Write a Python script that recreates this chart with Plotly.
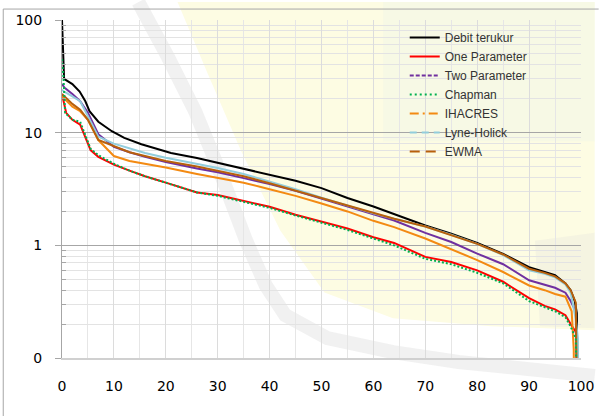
import plotly.graph_objects as go

# ---------------- data ----------------
black_x = [0, 0.0, 0.4, 2, 3.4, 4.5, 5.3, 7, 9.6, 12, 15.3, 18, 21, 26, 30, 35.5, 40, 45, 50, 55, 60, 64, 70, 75, 80, 85, 90, 93, 95, 97, 98, 98.8, 99.2, 99.4]
black_y = [150, 100, 30, 27, 23.2, 19, 15.5, 12.5, 10.3, 9.0, 7.9, 7.2, 6.6, 5.96, 5.4, 4.77, 4.23, 3.74, 3.22, 2.63, 2.21, 1.90, 1.50, 1.27, 1.05, 0.84, 0.64, 0.58, 0.545, 0.46, 0.40, 0.32, 0.25, 0.01]

red_x = [0, 0.3, 0.8, 2, 3.5, 5, 5.5, 7, 10, 13, 16, 20, 26, 30, 35, 40, 45, 50, 55, 60, 64, 70, 75, 80, 85, 90, 93, 95, 97, 98, 99, 99.3, 99.5]
red_y = [22, 19, 15, 13, 11.8, 8.0, 7.0, 6.1, 5.2, 4.6, 4.1, 3.6, 2.95, 2.8, 2.5, 2.2, 1.87, 1.62, 1.41, 1.18, 1.05, 0.79, 0.71, 0.60, 0.475, 0.34, 0.29, 0.27, 0.24, 0.20, 0.17, 0.10, 0.01]

purple_x = [0, 0.5, 2, 3.5, 5, 7, 10, 13, 16, 20, 26, 30, 35, 40, 45, 50, 55, 60, 64, 70, 75, 80, 85, 90, 93, 95, 97, 98, 99, 99.4]
purple_y = [27, 25, 22, 19, 15, 9.7, 7.5, 6.7, 6.1, 5.5, 4.8, 4.45, 3.95, 3.5, 3.05, 2.6, 2.2, 1.86, 1.66, 1.29, 1.07, 0.845, 0.68, 0.49, 0.45, 0.42, 0.38, 0.32, 0.26, 0.01]

green_x = [0, 0.3, 0.6, 2, 3.5, 5, 5.5, 7, 10, 13, 16, 20, 26, 30, 35, 40, 45, 50, 55, 60, 64, 70, 75, 80, 85, 90, 93, 95, 97, 98, 99, 99.4]
green_y = [45, 30, 15, 13, 12.5, 8.5, 7.2, 6.3, 5.3, 4.6, 4.1, 3.6, 2.95, 2.75, 2.45, 2.15, 1.84, 1.58, 1.37, 1.15, 1.0, 0.76, 0.68, 0.57, 0.46, 0.32, 0.28, 0.26, 0.23, 0.19, 0.15, 0.01]

orange_x = [0, 0.5, 2, 3.5, 5, 7, 10, 13, 16, 20, 26, 30, 35, 40, 45, 50, 55, 60, 64, 70, 75, 80, 85, 90, 93, 95, 97, 98.2, 98.6, 98.8]
orange_y = [21, 20, 17, 15.5, 13, 8.6, 6.2, 5.6, 5.3, 4.9, 4.3, 4.0, 3.6, 3.15, 2.75, 2.35, 2.0, 1.65, 1.45, 1.15, 0.93, 0.74, 0.58, 0.44, 0.40, 0.37, 0.35, 0.26, 0.12, 0.01]

lblue_x = [0, 0.5, 2, 3.5, 5, 7, 10, 13, 16, 20, 26, 30, 35, 40, 45, 50, 55, 60, 64, 70, 75, 80, 85, 90, 93, 95, 97, 98, 99, 99.4, 99.6]
lblue_y = [24, 23, 21, 19, 14, 9.2, 8.0, 7.3, 6.6, 6.0, 5.3, 4.85, 4.3, 3.7, 3.15, 2.65, 2.25, 1.92, 1.72, 1.47, 1.24, 1.03, 0.82, 0.60, 0.56, 0.52, 0.45, 0.38, 0.22, 0.15, 0.01]

brown_x = [0, 0.5, 2, 3.5, 5, 7, 10, 13, 16, 20, 26, 30, 35, 40, 45, 50, 55, 60, 64, 70, 75, 80, 85, 90, 93, 95, 97, 98, 99, 99.4]
brown_y = [22, 21, 18, 16, 13, 8.6, 7.6, 6.7, 6.2, 5.6, 5.0, 4.6, 4.1, 3.55, 3.05, 2.6, 2.25, 1.92, 1.72, 1.47, 1.24, 1.03, 0.83, 0.62, 0.57, 0.53, 0.46, 0.40, 0.31, 0.01]

names = ["Debit terukur", "One Parameter", "Two Parameter", "Chapman", "IHACRES", "Lyne-Holick", "EWMA"]
y_tickvals = [0.1, 1, 10, 100]
y_ticktext = ["0", "1", "10", "100"]
x_tickvals = [0, 10, 20, 30, 40, 50, 60, 70, 80, 90, 100]

# ---------------- styles ----------------
colors = ["#000000", "#ff0000", "#7030a0", "#00b050", "#f38a12", "#92cddc", "#b8600c"]
legend_dash = ["solid", "solid", "4px,2px", "2px,3px", "9px,4px,2px,4px", "7px,5px", "10px,6px"]
series = [(black_x, black_y), (red_x, red_y), (purple_x, purple_y), (green_x, green_y),
          (orange_x, orange_y), (lblue_x, lblue_y), (brown_x, brown_y)]
draw_order = [0, 1, 2, 4, 5, 6, 3]

W, H = 606, 416
L, R, T, B = 62, 14, 18, 58
PW, PH = W - L - R, H - T - B


def px(x, y):
    return ((x - L) / PW, (H - B - y) / PH)


def path(points, close=True):
    s = ""
    for i, (a, b) in enumerate(points):
        xp, yp = px(a, b)
        s += ("M" if i == 0 else "L") + f"{xp:.4f},{yp:.4f} "
    return s + ("Z" if close else "")


fig = go.Figure()

for i in draw_order:
    xs, ys = series[i]
    fig.add_trace(go.Scatter(
        x=xs, y=ys, mode="lines", name=names[i], showlegend=False,
        line=dict(color=colors[i], width=2, dash=("2px,2px" if i == 3 else "solid")),
        hoverinfo="skip"))

for i in range(len(names)):
    fig.add_trace(go.Scatter(
        x=[None], y=[None], mode="lines", name=names[i],
        line=dict(color=colors[i], width=2, dash=legend_dash[i])))

shapes = []
# watermark approximation (behind the plot)
shapes.append(dict(type="path", xref="paper", yref="paper", layer="below",
                   path=path([(180, 0), (606, 0), (606, 330), (500, 326), (400, 318), (330, 292),
                              (285, 230), (245, 150), (210, 70)]),
                   fillcolor="#fdfce3", line=dict(width=0)))
shapes.append(dict(type="path", xref="paper", yref="paper", layer="below",
                   path=path([(390, 0), (606, 0), (606, 140), (390, 140)]),
                   fillcolor="#f2f6e8", line=dict(width=0), opacity=0.5))
shapes.append(dict(type="path", xref="paper", yref="paper", layer="below",
                   path=path([(140, 0), (170, 55), (198, 110), (225, 175), (250, 240), (270, 285),
                              (290, 315), (333, 338), (400, 352), (467, 362), (606, 376)], close=False),
                   line=dict(color="rgba(220,220,220,0.4)", width=14)))
shapes.append(dict(type="path", xref="paper", yref="paper", layer="below",
                   path=path([(545, 240), (606, 232), (606, 328), (550, 326)]),
                   fillcolor="rgba(220,220,220,0.22)", line=dict(width=0)))
# chart border
shapes.append(dict(type="path", xref="paper", yref="paper", layer="below",
                   path=path([(2, 420), (2, 7), (610, 7)], close=False),
                   line=dict(color="#a6a6a6", width=1)))
fig.update_layout(shapes=shapes)

fig.update_layout(
    width=W, height=H,
    margin=dict(l=L, r=R, t=T, b=B, pad=0),
    paper_bgcolor="white", plot_bgcolor="rgba(0,0,0,0)",
    font=dict(family="DejaVu Sans", size=14, color="black"),
    legend=dict(x=px(412, 0)[0], y=px(0, 21)[1], xanchor="left", yanchor="top",
                bgcolor="rgba(0,0,0,0)", font=dict(family="Liberation Sans", size=12, color="#333333"),
                tracegroupgap=0, itemwidth=30),
    showlegend=True,
)
fig.update_xaxes(range=[0, 100], tickvals=x_tickvals, showgrid=True, gridcolor="#dcdcdc", gridwidth=1,
                 minor=dict(dtick=5, showgrid=True, gridcolor="#e6e6e6", gridwidth=1),
                 showline=True, linecolor="#d0d0d0", linewidth=2, ticks="", zeroline=False,
                 ticklabelstandoff=14, tickfont=dict(family="DejaVu Sans", size=14))
minor_vals = [m * 10 ** e for e in (-1, 0, 1) for m in range(2, 10)]
fig.update_yaxes(type="log", range=[-1, 2], tickvals=y_tickvals, ticktext=y_ticktext,
                 showgrid=True, gridcolor="#a6a6a6", gridwidth=1,
                 minor=dict(tickvals=minor_vals, showgrid=True, gridcolor="#e3e3e3", gridwidth=1,
                            ticks="inside", ticklen=4, tickcolor="#a6a6a6"),
                 showline=True, linecolor="#a6a6a6", linewidth=1, ticks="outside", ticklen=6,
                 tickcolor="#a6a6a6", zeroline=False, ticklabelstandoff=10,
                 tickfont=dict(family="DejaVu Sans", size=14))

fig.write_html("out.html")
